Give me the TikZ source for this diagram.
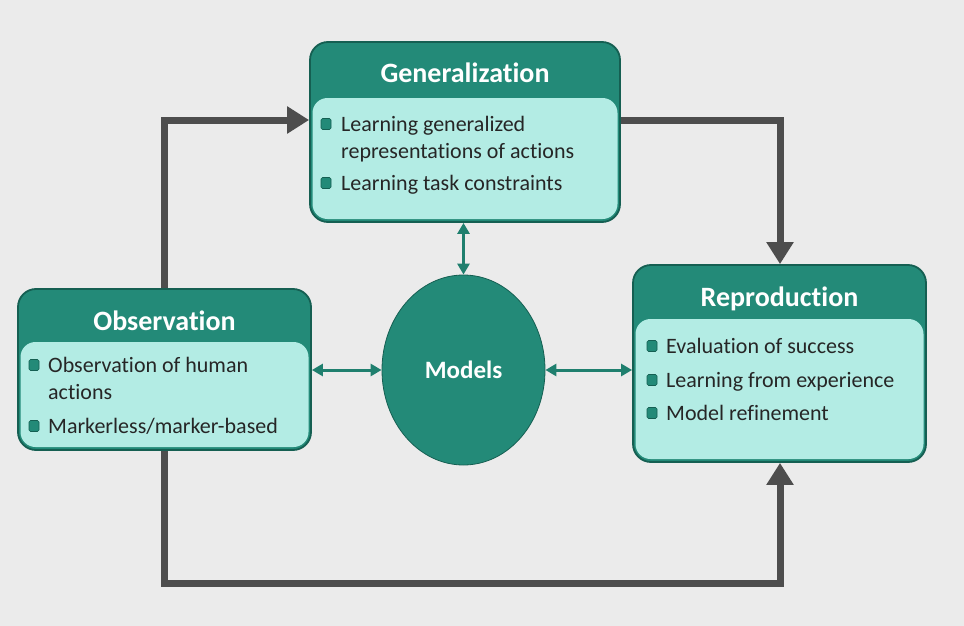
\documentclass[tikz,border=0pt]{standalone}
\usepackage{fontspec}
\setmainfont{Carlito}[Ligatures=NoCommon]
\usetikzlibrary{arrows.meta,shapes.geometric}
\definecolor{bg}{HTML}{EBEBEB}
\definecolor{teal1}{HTML}{238A78}
\definecolor{tealdark}{HTML}{155F52}
\definecolor{lightbody}{HTML}{B3ECE4}
\definecolor{txt}{HTML}{262626}
\definecolor{graya}{HTML}{4D4D4D}
\definecolor{tealarrow}{HTML}{1F7F6E}
\tikzset{
  outerbox/.style={rectangle, rounded corners=18pt, fill=teal1, draw=tealdark, line width=1.8pt, inner sep=0pt},
  bodybox/.style={rectangle, rounded corners=15pt, fill=lightbody, draw=none, inner sep=0pt},
  title/.style={font=\fontsize{28}{32}\selectfont\bfseries, text=white, inner sep=0pt, anchor=base},
  item/.style={font=\fontsize{22}{26}\selectfont, text=txt, anchor=base west, inner sep=0pt},
  bullet/.style={rectangle, rounded corners=1.5pt, fill=teal1, draw=tealdark, line width=0.6pt, minimum width=10pt, minimum height=11pt, inner sep=0pt},
  flow/.style={draw=graya, line width=7pt, -{Triangle[length=22pt,width=26pt]}},
  link/.style={draw=tealarrow, line width=3pt, {Triangle[length=11pt,width=12pt]}-{Triangle[length=11pt,width=12pt]}},
}
\begin{document}
\begin{tikzpicture}[x=1pt,y=-1pt]
\fill[bg] (0,0) rectangle (964,626);
\useasboundingbox (0,0) rectangle (964,626);

% Generalization
\node[outerbox, minimum width=310pt, minimum height=180pt] (gen) at (465,132) {};
\node[bodybox, minimum width=305pt, minimum height=121pt] (genbody) at (465,158.5) {};
\node[title] (gentitle) at (465,83) {Generalization};
\node[bullet] (gb1) at (326,124) {};
\node[item] (gt1) at (341,131) {Learning generalized};
\node[item] (gt1b) at (341,158) {representations of actions};
\node[bullet] (gb2) at (326,183) {};
\node[item] (gt2) at (341,190) {Learning task constraints};

% Observation
\node[outerbox, minimum width=293pt, minimum height=161pt] (obs) at (164.5,369.5) {};
\node[bodybox, minimum width=288pt, minimum height=105pt] (obsbody) at (164.5,394.5) {};
\node[title] (obstitle) at (164.5,330) {Observation};
\node[bullet] (ob1) at (34,365) {};
\node[item] (ot1) at (48,372) {Observation of human};
\node[item] (ot1b) at (48,399) {actions};
\node[bullet] (ob2) at (34,426) {};
\node[item] (ot2) at (48,433) {Markerless/marker-based};

% Reproduction
\node[outerbox, minimum width=293pt, minimum height=197pt] (rep) at (779.5,363.5) {};
\node[bodybox, minimum width=288pt, minimum height=140pt] (repbody) at (779.5,389) {};
\node[title] (reptitle) at (779.5,306) {Reproduction};
\node[bullet] (rb1) at (652,346) {};
\node[item] (rt1) at (666,353) {Evaluation of success};
\node[bullet] (rb2) at (652,380) {};
\node[item] (rt2) at (666,387) {Learning from experience};
\node[bullet] (rb3) at (652,413) {};
\node[item] (rt3) at (666,420) {Model refinement};

% Models
\node[ellipse, fill=teal1, draw=tealdark, line width=0.8pt, minimum width=163pt, minimum height=190pt, inner sep=0pt, font=\fontsize{25}{28}\selectfont\bfseries, text=white] (models) at (463.5,370) {Models};

% gray flow arrows
\coordinate (c1) at (164,120);
\coordinate (c2) at (780,120);
\coordinate (c3) at (164,583);
\coordinate (c4) at (780,583);
\draw[flow] (obs.north -| c1) -- (c1) -- (c1 -| gen.west);
\draw[flow] (c1 -| gen.east) -- (c2) -- (c2 |- rep.north);
\draw[flow] (obs.south -| c3) -- (c3) -- (c4) -- (c4 |- rep.south);

% teal links
\draw[link] (gen.south -| models.north) -- (models.north);
\draw[link] (obs.east |- models.west) -- (models.west);
\draw[link] (models.east) -- (rep.west |- models.east);
\end{tikzpicture}
\end{document}
